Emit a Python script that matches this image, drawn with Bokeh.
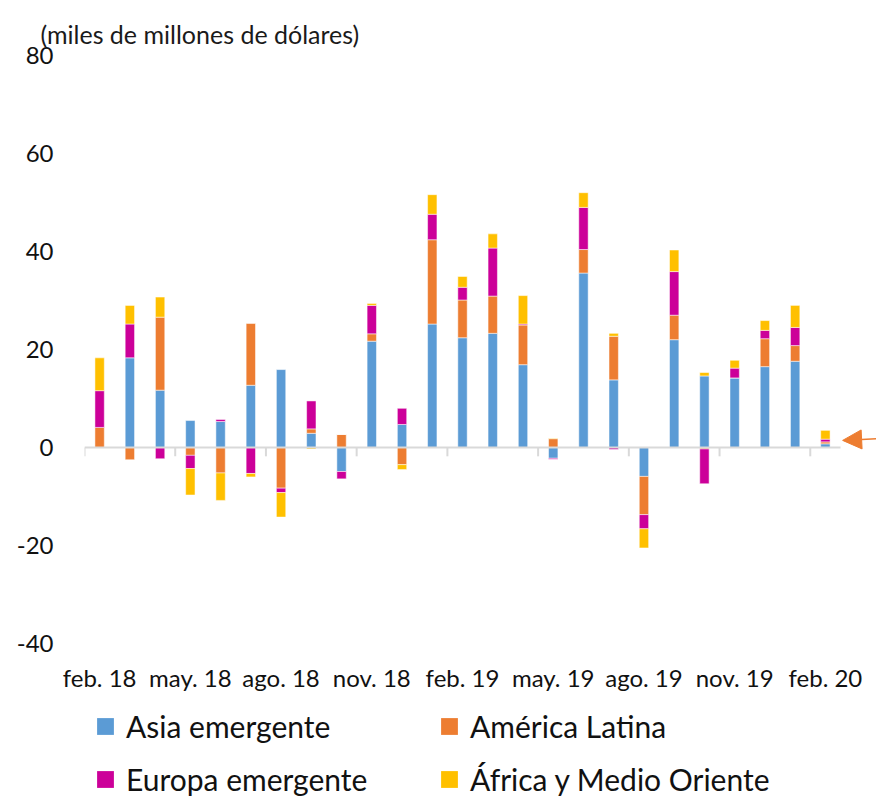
import numpy as np
from bokeh.plotting import figure
from bokeh.layouts import column
from bokeh.models import (ColumnDataSource, FixedTicker, Legend, LegendItem,
                          Arrow, NormalHead, Range1d)
from bokeh.embed import file_html
from bokeh.resources import INLINE

# ---------------- data ----------------
months = ["feb. 18", "mar. 18", "abr. 18", "may. 18", "jun. 18", "jul. 18",
          "ago. 18", "sep. 18", "oct. 18", "nov. 18", "dic. 18", "ene. 19",
          "feb. 19", "mar. 19", "abr. 19", "may. 19", "jun. 19", "jul. 19",
          "ago. 19", "sep. 19", "oct. 19", "nov. 19", "dic. 19", "ene. 20",
          "feb. 20"]
asia = [0.0, 18.3, 11.7, 5.5, 5.3, 12.7, 15.9, 2.9, -4.9, 21.7, 4.7, 25.2,
        22.4, 23.3, 16.9, -2.2, 35.6, 13.8, -5.9, 22.0, 14.6, 14.2, 16.5, 17.6, 0.75]
latam = [4.1, -2.5, 14.9, -1.6, -5.2, 12.6, -8.3, 0.9, 2.65, 1.5, -3.5, 17.2,
         7.7, 7.6, 8.1, 1.8, 4.8, 8.9, -7.8, 5.0, -0.3, 0.0, 5.7, 3.2, 0.4]
europa = [7.5, 6.9, -2.3, -2.7, 0.4, -5.3, -0.9, 5.7, -1.5, 5.8, 3.3, 5.2,
          2.6, 9.8, 0.2, -0.2, 8.6, -0.4, -2.9, 8.9, -7.1, 2.0, 1.7, 3.7, 0.55]
africa = [6.7, 3.8, 4.1, -5.4, -5.6, -0.7, -5.0, -0.3, 0.0, 0.4, -1.0, 4.0,
          2.2, 2.9, 5.8, 0.1, 3.0, 0.6, -3.9, 4.4, 0.7, 1.6, 2.0, 4.5, 1.8]
series_names = ["Asia emergente", "América Latina", "Europa emergente",
                "África y Medio Oriente"]
series_values = [asia, latam, europa, africa]
colors = ["#5B9BD5", "#ED7D31", "#CC0099", "#FFC000"]
y_ticks = [-40, -20, 0, 20, 40, 60, 80]
y_tick_labels = ["-40", "-20", "0", "20", "40", "60", "80"]
label_step = 3

FONT = "Lato"
TXT = "#111111"
n = len(months)
x = np.arange(1, n + 1)

p = figure(width=876, height=700, output_backend="svg", toolbar_location=None,
           x_range=Range1d(0.5, 26.69), y_range=Range1d(-40, 80),
           min_border_left=84, min_border_right=0, min_border_top=55,
           min_border_bottom=57)
p.outline_line_color = None
p.grid.grid_line_color = None
p.background_fill_color = "white"

# title
p.title.text = "(miles de millones de dólares)"
p.title.text_font = FONT
p.title.text_font_size = "25px"
p.title.text_font_style = "normal"
p.title.text_color = "#1a1a1a"
p.title.align = "left"
p.title.offset = -44
p.title.standoff = 14

# stacked bars (positive up, negative down)
pos_base = np.zeros(n)
neg_base = np.zeros(n)
for name, vals, col in zip(series_names, series_values, colors):
    v = np.array(vals, dtype=float)
    pos = np.clip(v, 0, None)
    neg = np.clip(v, None, 0)
    bottom = np.where(v >= 0, pos_base, neg_base)
    top = np.where(v >= 0, pos_base + pos, neg_base + neg)
    pos_base = pos_base + pos
    neg_base = neg_base + neg
    src = ColumnDataSource(dict(x=x, bottom=bottom, top=top))
    p.vbar(x="x", bottom="bottom", top="top", width=0.31, source=src,
           fill_color=col, line_color="white", line_alpha=0.5, line_width=1)

# zero axis line and category group tick marks
p.segment(x0=[0.5], y0=[0], x1=[n + 0.5], y1=[0], line_color="#D9D9D9",
          line_width=2.2)
tick_x = np.arange(0.5, n, label_step)
p.segment(x0=tick_x, y0=np.zeros(len(tick_x)), x1=tick_x,
          y1=np.full(len(tick_x), -1.8), line_color="#D9D9D9", line_width=2)

# arrow pointing to the last bar
p.add_layout(Arrow(end=NormalHead(size=19, fill_color="#ED7D31",
                                  line_color="#ED7D31"),
                   x_start=n + 1.69, y_start=1.8, x_end=n + 0.57, y_end=1.45,
                   line_color="#ED7D31", line_width=1.5))

# axes
xt = list(x[::label_step])
p.xaxis.ticker = FixedTicker(ticks=xt)
p.xaxis.major_label_overrides = {int(t): months[int(t) - 1] for t in xt}
p.xaxis.axis_line_color = None
p.xaxis.major_tick_line_color = None
p.xaxis.minor_tick_line_color = None
p.xaxis.major_tick_out = 0
p.xaxis.major_tick_in = 0
p.xaxis.major_label_standoff = 19
p.xaxis.major_label_text_font = FONT
p.xaxis.major_label_text_font_size = "24px"
p.xaxis.major_label_text_color = TXT

p.yaxis.ticker = FixedTicker(ticks=y_ticks)
p.yaxis.major_label_overrides = dict(zip(y_ticks, y_tick_labels))
p.yaxis.axis_line_color = None
p.yaxis.major_tick_line_color = None
p.yaxis.minor_tick_line_color = None
p.yaxis.major_tick_out = 0
p.yaxis.major_tick_in = 0
p.yaxis.major_label_standoff = 31
p.yaxis.major_label_text_font = FONT
p.yaxis.major_label_text_font_size = "24px"
p.yaxis.major_label_text_color = TXT

# legend in its own strip below the chart
lf = figure(width=876, height=97, output_backend="svg", toolbar_location=None,
            x_range=Range1d(0, 1), y_range=Range1d(0, 1),
            min_border_left=84, min_border_right=0, min_border_top=0,
            min_border_bottom=0)
lf.axis.visible = False
lf.grid.grid_line_color = None
lf.outline_line_color = None
leg_items = {}
for name, col in zip(series_names, colors):
    r = lf.scatter(x=[-10], y=[-10], marker="square", size=17, fill_color=col,
                   line_color=None)
    leg_items[name] = LegendItem(label=name, renderers=[r])
# two columns, filled row by row as in the original
order = [series_names[0], series_names[2], series_names[1], series_names[3]]
legend = Legend(items=[leg_items[k] for k in order], ncols=2, location=(0, -3))
legend.label_text_font = FONT
legend.label_text_font_size = "30px"
legend.label_text_color = TXT
legend.glyph_width = 42
legend.glyph_height = 42
legend.label_standoff = 0
legend.spacing = 11
legend.label_width = 291
legend.padding = 0
legend.margin = 0
legend.border_line_color = None
legend.background_fill_alpha = 0
lf.add_layout(legend)

layout = column(p, lf, spacing=0)
open("out.html", "w").write(file_html(layout, INLINE))
